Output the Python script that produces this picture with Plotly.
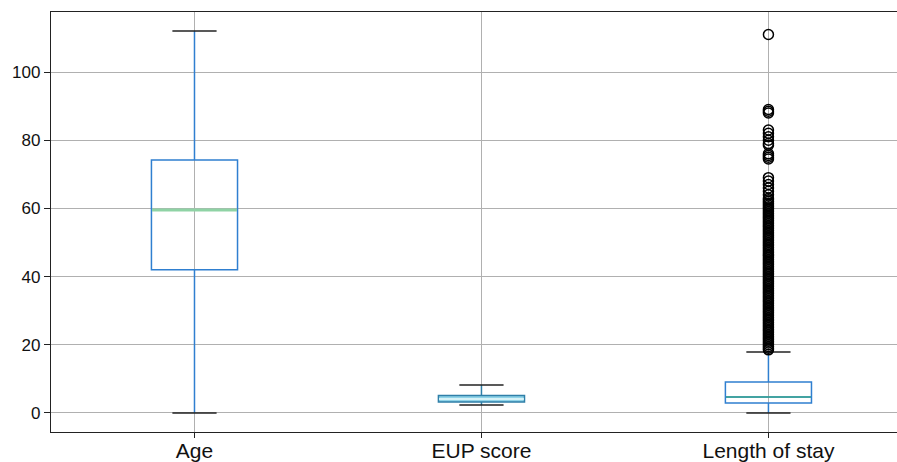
import plotly.graph_objects as go

categories = ["Age", "EUP score", "Length of stay"]
positions = [1, 2, 3]
q1 = [42, 3.2, 2.9]
median = [59.5, 4.1, 4.7]
q3 = [74.2, 5.1, 9.1]
lower_fence = [0, 2.3, 0]
upper_fence = [112, 8.2, 17.9]

stay_outliers = [
    18.5, 19, 19.5, 20, 20.5, 21, 21.5, 22, 22.5, 23, 23.5, 24, 24.5, 25, 25.5,
    26, 26.5, 27, 27.5, 28, 28.5, 29, 29.5, 30, 30.5, 31, 31.5, 32, 32.5, 33,
    33.5, 34, 34.5, 35, 35.5, 36, 36.5, 37, 37.5, 38, 38.5, 39, 39.5, 40, 40.5,
    41, 41.5, 42, 42.5, 43, 43.5, 44, 44.5, 45, 45.5, 46, 46.5, 47, 47.5, 48,
    48.5, 49, 49.5, 50, 50.5, 51, 51.5, 52, 52.5, 53, 53.5, 54, 54.5, 55, 55.5,
    56, 56.5, 57, 57.5, 58, 58.5, 59, 59.5, 60, 60.5, 61, 61.5, 62, 62.5, 63,
    64, 65, 66, 67, 68, 69, 74.5, 75, 75.5, 76, 78.5, 79, 80, 81, 82, 83,
    88, 88.5, 89, 111,
]

box_line = ["#2f7fd0", "#2f7fa8", "#2f7fd0"]
box_fill = ["rgba(0,0,0,0)", "#8fd3e8", "rgba(0,0,0,0)"]
median_col = ["#8fd3a5", "#d6f2f7", "#3aa58f"]
median_w = [3, 2, 1.5]

fig = go.Figure()
for i in range(3):
    fig.add_trace(go.Box(
        x=[positions[i]], q1=[q1[i]], median=[median[i]], q3=[q3[i]],
        lowerfence=[lower_fence[i]], upperfence=[upper_fence[i]],
        width=0.3, whiskerwidth=0, fillcolor=box_fill[i],
        line=dict(color=box_line[i], width=1.5), showlegend=False,
        hoverinfo="skip",
    ))
    # median line
    fig.add_trace(go.Scatter(
        x=[positions[i] - 0.148, positions[i] + 0.148], y=[median[i], median[i]],
        mode="lines", line=dict(color=median_col[i], width=median_w[i]),
        showlegend=False, hoverinfo="skip",
    ))
    # caps
    for v in (lower_fence[i], upper_fence[i]):
        fig.add_trace(go.Scatter(
            x=[positions[i] - 0.077, positions[i] + 0.077], y=[v, v],
            mode="lines", line=dict(color="#222222", width=1.5),
            showlegend=False, hoverinfo="skip",
        ))

fig.add_trace(go.Scatter(
    x=[positions[2]] * len(stay_outliers), y=stay_outliers, mode="markers",
    marker=dict(symbol="circle-open", size=10, color="black",
                line=dict(color="black", width=1.5)),
    showlegend=False, hoverinfo="skip",
))

fig.update_layout(
    width=897, height=462,
    margin=dict(l=51, r=0, t=12, b=30),
    paper_bgcolor="white", plot_bgcolor="white",
    font=dict(family="Liberation Sans, Arial, sans-serif", color="#111111"),
)
fig.update_xaxes(
    range=[0.5, 3.448], tickvals=positions, ticktext=categories,
    tickfont=dict(size=21), showgrid=True, gridcolor="#b0b0b0", gridwidth=1,
    showline=True, linecolor="#222222", linewidth=1.3, mirror=True,
    ticks="outside", ticklen=5, tickcolor="#222222", zeroline=False,
    automargin=False, ticklabelstandoff=-5,
)
fig.update_yaxes(
    range=[-5.6, 117.6], tickvals=[0, 20, 40, 60, 80, 100],
    tickfont=dict(size=17), showgrid=True, gridcolor="#b0b0b0", gridwidth=1,
    showline=True, linecolor="#222222", linewidth=1.3, mirror=False,
    ticks="outside", ticklen=6, tickcolor="#222222", zeroline=False,
    automargin=False,
)

fig.write_html(
    "out.html",
    config={"displayModeBar": False},
    post_script="document.body.style.margin='0px';document.body.style.overflow='hidden';",
)
